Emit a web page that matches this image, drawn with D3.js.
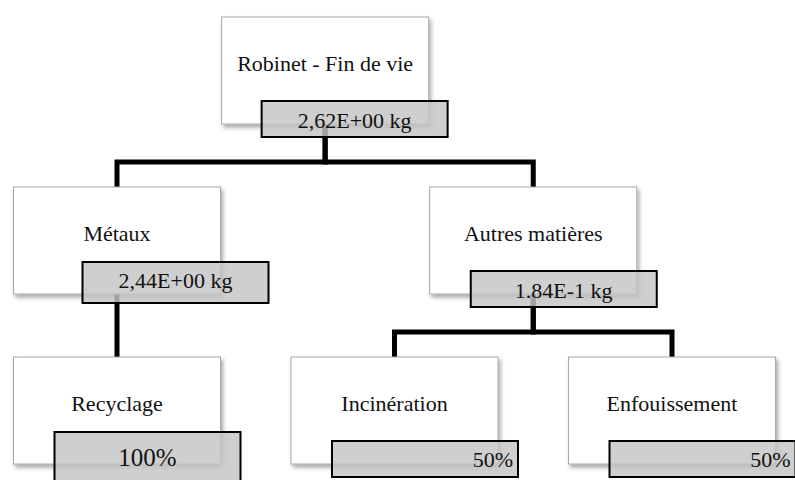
<!DOCTYPE html>
<html>
<head>
<meta charset="utf-8">
<script src="https://cdn.jsdelivr.net/npm/d3@7"></script>
<style>
  body { margin: 0; background: #fff; }
</style>
</head>
<body>
<script>
// tree data
const nodeNames = ["Robinet - Fin de vie", "Métaux", "Autres matières", "Recyclage", "Incinération", "Enfouissement"];
const nodeParents = [null, "Robinet - Fin de vie", "Robinet - Fin de vie", "Métaux", "Autres matières", "Autres matières"];
const nodeValues = ["2,62E+00 kg", "2,44E+00 kg", "1.84E-1 kg", "100%", "50%", "50%"];

let W = 795, H = 480;
let boxW = 207, boxH = 107;
let tagW = 186;

// where the grey value tag sits on each box (offset from box top-left)
const tagLayout = {
    "Robinet - Fin de vie": { dx: 40, dy: 84, h: 36, anchor: "middle", size: 22, base: 27 },
    "Métaux":               { dx: 69, dy: 75, h: 41, anchor: "middle", size: 22, base: 26 },
    "Autres matières":      { dx: 41, dy: 84, h: 36, anchor: "middle", size: 22, base: 27 },
    "Recyclage":            { dx: 41, dy: 75, h: 60, anchor: "middle", size: 25, base: 34 },
    "Incinération":         { dx: 41, dy: 84, h: 36, anchor: "end", size: 22, base: 26 },
    "Enfouissement":        { dx: 41, dy: 84, h: 36, anchor: "end", size: 22, base: 26 }
};

let table = nodeNames.map((n, i) => ({ name: n, parent: nodeParents[i], value: nodeValues[i] }));
let root = d3.stratify().id(d => d.name).parentId(d => d.parent)(table);
d3.tree().nodeSize([1, 1]).separation(() => 1)(root);

let nodes = root.descendants();
let x = d3.scaleLinear().domain(d3.extent(nodes, d => d.x)).range([117, 672]);
let y = d3.scaleLinear().domain([0, 2]).range([17, 357]);

const svg = d3.select("body").append("svg")
    .attr("width", W)
    .attr("height", H)
    .style("display", "block");

let defs = svg.append("defs");
let f = defs.append("filter").attr("id", "shadow")
    .attr("x", "-10%").attr("y", "-10%").attr("width", "130%").attr("height", "130%");
f.append("feDropShadow")
    .attr("dx", 2).attr("dy", 3).attr("stdDeviation", 2)
    .attr("flood-color", "#000").attr("flood-opacity", 0.35);

// elbow connectors
svg.append("g").selectAll("path")
    .data(root.links())
    .enter()
    .append("path")
    .attr("fill", "none")
    .attr("stroke", "#000")
    .attr("stroke-width", 5)
    .attr("stroke-linejoin", "miter")
    .attr("d", l => {
        let px = x(l.source.x), cx = x(l.target.x);
        let top = y(l.source.depth), ctop = y(l.target.depth);
        let mid = (top + 120 + ctop) / 2;
        return `M${px},${top + boxH / 2} V${mid} H${cx} V${ctop + 2}`;
    });

let g = svg.append("g").selectAll("g")
    .data(nodes)
    .enter()
    .append("g")
    .attr("transform", d => `translate(${x(d.x) - boxW / 2},${y(d.depth)})`);

g.append("rect")
    .attr("width", boxW)
    .attr("height", boxH)
    .attr("fill", "#fff")
    .attr("stroke", "#a8a8a8")
    .attr("stroke-width", 1)
    .attr("filter", "url(#shadow)");

g.append("text")
    .attr("x", boxW / 2)
    .attr("y", 54)
    .attr("text-anchor", "middle")
    .attr("font-family", "'Liberation Serif', serif")
    .attr("font-size", "22px")
    .attr("fill", "#111")
    .text(d => d.id);

let tag = g.append("g")
    .attr("transform", d => `translate(${tagLayout[d.id].dx},${tagLayout[d.id].dy})`);

tag.append("rect")
    .attr("width", tagW)
    .attr("height", d => tagLayout[d.id].h)
    .attr("fill", "#c4c4c4")
    .attr("fill-opacity", 0.82)
    .attr("stroke", "#000")
    .attr("stroke-width", 2);

tag.append("text")
    .attr("x", d => tagLayout[d.id].anchor == "end" ? tagW - 5 : tagW / 2)
    .attr("y", d => tagLayout[d.id].base)
    .attr("text-anchor", d => tagLayout[d.id].anchor)
    .attr("font-family", "'Liberation Serif', serif")
    .attr("font-size", d => tagLayout[d.id].size + "px")
    .attr("fill", "#111")
    .text(d => d.data.value);
</script>
</body>
</html>
